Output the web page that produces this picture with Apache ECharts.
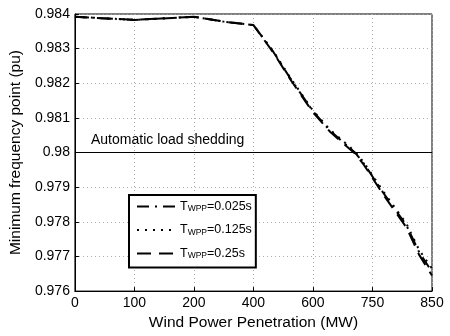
<!DOCTYPE html>
<html><head><meta charset="utf-8">
<script src="https://cdn.jsdelivr.net/npm/echarts@6/dist/echarts.min.js"></script>
<style>html,body{margin:0;padding:0;background:#fff}#c{width:450px;height:336px}</style>
</head><body><div id="c"></div>
<script>
var xTicks = [0, 100, 200, 400, 600, 750, 850];
var seriesNames = ['T_WPP=0.025s', 'T_WPP=0.125s', 'T_WPP=0.25s'];
var xMW = [0, 100, 200, 300, 400, 468, 524, 600, 643, 705, 728, 768, 807, 828, 850];
var y025 = [0.98392, 0.98383, 0.98392, 0.98378, 0.98368, 0.98289, 0.98214, 0.98119, 0.98063, 0.98001, 0.97969, 0.97884, 0.97790, 0.97714, 0.97655];
var y0125 = [0.98392, 0.98383, 0.98392, 0.98378, 0.98368, 0.98291, 0.98216, 0.98121, 0.98066, 0.98004, 0.97972, 0.97888, 0.97795, 0.97720, 0.97665];
var y025b = [0.98392, 0.98383, 0.98392, 0.98378, 0.98368, 0.98287, 0.98211, 0.98116, 0.98060, 0.97998, 0.97965, 0.97879, 0.97784, 0.97706, 0.97645];
var sheddingLevel = 0.98;
var sheddingText = 'Automatic load shedding';

function toIdx(mw){
  for (var i=0;i<xTicks.length-1;i++){
    if (mw<=xTicks[i+1]) return i + (mw-xTicks[i])/(xTicks[i+1]-xTicks[i]);
  }
  return xTicks.length-1;
}
function pts(ys){ return xMW.map(function(m,i){ return [toIdx(m), ys[i]]; }); }

var dashes = [[12,6,2,6],[2,6],[14,8]];
var ys = [y025, y0125, y025b];
var series = seriesNames.map(function(n,i){
  return {name:n, type:'line', data:pts(ys[i]), showSymbol:false, symbol:'none', smooth:false,
    lineStyle:{color:'#000', width:2, type:dashes[i]}, itemStyle:{color:'#000'}, z:3};
});
series[0].markLine = {silent:true, symbol:'none', label:{show:false},
  lineStyle:{color:'#000', width:1, type:'solid'}, data:[{yAxis:sheddingLevel}]};

var chart = echarts.init(document.getElementById('c'));
chart.setOption({
  animation:false,
  backgroundColor:'#fff',
  grid:{left:71, right:18, top:14, bottom:39, show:true, borderColor:'#000', borderWidth:1},
  xAxis:{type:'value', min:0, max:xTicks.length-1, interval:1,
    name:'Wind Power Penetration (MW)', nameLocation:'middle', nameGap:20,
    nameTextStyle:{fontFamily:'Liberation Sans', fontSize:15.5, color:'#000'},
    axisLine:{show:true, lineStyle:{color:'#000'}},
    axisTick:{show:true, inside:true, length:4, lineStyle:{color:'#000'}},
    axisLabel:{fontFamily:'Liberation Sans', fontSize:14, color:'#000', margin:5,
      formatter:function(v){ return String(xTicks[Math.round(v)]); }},
    splitLine:{show:true, lineStyle:{color:'#aaa', type:[1,3], width:1}}},
  yAxis:{type:'value', min:0.976, max:0.984, interval:0.001,
    name:'Minimum frequency point (pu)', nameLocation:'middle', nameGap:50,
    nameTextStyle:{fontFamily:'Liberation Sans', fontSize:15.5, color:'#000'},
    axisLine:{show:true, lineStyle:{color:'#000'}},
    axisTick:{show:true, inside:true, length:4, lineStyle:{color:'#000'}},
    axisLabel:{fontFamily:'Liberation Sans', fontSize:14, color:'#000', margin:5,
      formatter:function(v){ return String(parseFloat(v.toFixed(3))); }},
    splitLine:{show:true, lineStyle:{color:'#aaa', type:[1,3], width:1}}},
  legend:{show:true, orient:'vertical', left:129, top:195,
    borderColor:'#000', borderWidth:2, padding:[5,4,7,7], itemGap:10,
    itemWidth:38, itemHeight:14, backgroundColor:'#fff',
    itemStyle:{opacity:0},
    data:seriesNames,
    formatter:function(n){ var p=n.split('_'); var r=p[1].split('='); return '{t|T}{s|'+r[0]+'}{t|='+r[1]+'}'; },
    textStyle:{fontFamily:'Liberation Sans', fontSize:12.5, color:'#000',
      rich:{t:{fontFamily:'Liberation Sans', fontSize:12.5, color:'#000'},
            s:{fontFamily:'Liberation Sans', fontSize:8.5, color:'#000', padding:[5,0,0,0]}}}},
  graphic:[{type:'text', left:91, top:133, style:{text:sheddingText, fontFamily:'Liberation Sans', fontSize:14, fill:'#000'}}],
  series:series
});
</script></body></html>
